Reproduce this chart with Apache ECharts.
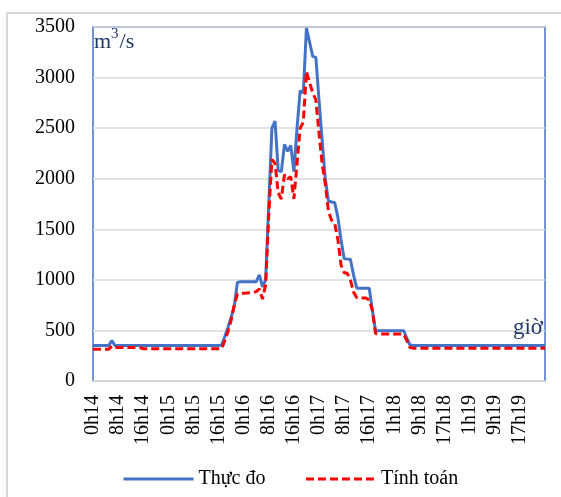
<!DOCTYPE html>
<html>
<head>
<meta charset="utf-8">
<script src="https://cdn.jsdelivr.net/npm/echarts@6/dist/echarts.min.js"></script>
<style>
  html, body { margin: 0; padding: 0; background: #fff; }
  #chart { width: 561px; height: 497px; }
</style>
</head>
<body>
<div id="chart"></div>
<script>
// Tick labels on the time axis (one every 8 hourly steps)
var tickLabels = ['0h14','8h14','16h14','0h15','8h15','16h15','0h16','8h16','16h16','0h17','8h17','16h17','1h18','9h18','17h18','1h19','9h19','17h19'];
var yTicks = [0, 500, 1000, 1500, 2000, 2500, 3000, 3500];
var seriesNames = ['Thực đo', 'Tính toán'];

// Measured discharge (hourly)
var thucDo = [
  350,350,350,350,350,350,400,350,350,350,
  350,350,350,350,350,350,350,350,350,350,
  350,350,350,350,350,350,350,350,350,350,
  350,350,350,350,350,350,350,350,350,350,
  350,355,440,530,630,740,975,982,982,982,
  982,982,982,1050,930,1000,1750,2500,2570,2080,
  2070,2340,2270,2330,2070,2500,2870,2850,3490,3350,
  3210,3200,2780,2380,2000,1780,1770,1765,1620,1400,
  1210,1205,1203,1050,920,918,918,918,918,700,
  500,497,497,497,497,497,497,497,497,497,
  420,355,350,350,350,350,350,350,350,350,
  350,350,350,350,350,350,350,350,350,350,
  350,350,350,350,350,350,350,350,350,350,
  350,350,350,350,350,350,350,350,350,350,
  350,350,350,350,350
];

// Computed discharge (hourly)
var tinhToan = [
  315,315,315,315,315,315,345,330,330,330,
  330,330,330,330,330,330,318,318,318,318,
  318,318,318,318,318,318,318,318,318,318,
  318,318,318,318,318,318,318,318,318,318,
  318,320,400,490,600,750,860,866,868,870,
  873,877,883,910,810,950,1650,2190,2150,1860,
  1800,2040,2000,2020,1800,2150,2500,2560,3060,2950,
  2850,2780,2450,2150,1950,1680,1590,1560,1400,1150,
  1070,1065,1000,880,825,820,820,820,800,700,
  470,465,465,465,465,465,465,465,465,465,
  400,330,325,325,325,325,325,325,325,325,
  325,325,325,325,325,325,325,325,325,325,
  325,325,325,325,325,325,325,325,325,325,
  325,325,325,325,325,325,325,325,325,325,
  325,325,325,325,325
];

function toPairs(arr) {
  var out = [];
  for (var i = 0; i < arr.length; i++) out.push([i, arr[i]]);
  return out;
}

var FONT = "'Liberation Serif', 'Times New Roman', serif";
var chart = echarts.init(document.getElementById('chart'), null, { renderer: 'canvas' });

chart.setOption({
  animation: false,
  backgroundColor: '#ffffff',
  textStyle: { fontFamily: FONT },
  grid: {
    left: 93, right: 16, top: 27, bottom: 116,
    show: true, borderColor: '#4472C4', borderWidth: 1.5, backgroundColor: 'transparent'
  },
  xAxis: {
    type: 'value',
    min: 0, max: thucDo.length - 1, interval: 8,
    axisLine: { show: true, lineStyle: { color: '#D9D9D9', width: 1.5 } },
    axisTick: { show: false },
    splitLine: { show: false },
    axisLabel: {
      rotate: 90, margin: 14, color: '#000', fontSize: 20, fontFamily: FONT,
      showMaxLabel: false,
      formatter: function (v) { var k = Math.round(v / 8); return tickLabels[k] !== undefined ? tickLabels[k] : ''; }
    }
  },
  yAxis: {
    type: 'value',
    min: yTicks[0], max: yTicks[yTicks.length - 1], interval: 500,
    axisLine: { show: false },
    axisTick: { show: false },
    splitLine: { show: true, lineStyle: { color: '#D9D9D9', width: 1.5 } },
    axisLabel: {
      color: '#000', fontSize: 20, fontFamily: FONT, margin: 18,
      formatter: function (v) { return String(v); }
    }
  },
  legend: {
    left: 117, top: 464,
    itemWidth: 70, itemHeight: 14, itemGap: 39,
    textStyle: { fontSize: 20, fontFamily: FONT, color: '#000' },
    itemStyle: { opacity: 0 },
    lineStyle: { width: 3 },
    data: seriesNames
  },
  series: [
    {
      name: seriesNames[0], type: 'line', symbol: 'none',
      data: toPairs(thucDo),
      lineStyle: { color: '#4472C4', width: 3 },
      itemStyle: { color: '#4472C4' },
      z: 2
    },
    {
      name: seriesNames[1], type: 'line', symbol: 'none',
      data: toPairs(tinhToan),
      lineStyle: { color: '#FF0000', width: 3, type: [8, 4] },
      itemStyle: { color: '#FF0000' },
      z: 3
    }
  ],
  graphic: [
    {
      type: 'rect', silent: true, z: -10,
      shape: { x: 7, y: 13, width: 570, height: 500 },
      style: { fill: 'none', stroke: '#D9D9D9', lineWidth: 2 }
    },
    {
      type: 'text', left: 94, top: 27, z: 10,
      style: {
        text: '{m|m}{s|3}{m|/s}',
        rich: {
          m: { font: '22px ' + FONT, fill: '#1F3864', verticalAlign: 'bottom', lineHeight: 26 },
          s: { font: '15px ' + FONT, fill: '#1F3864', verticalAlign: 'top', lineHeight: 26, padding: [0, 1, 10, 0] }
        }
      }
    },
    {
      type: 'text', right: 18, top: 316, z: 10,
      style: { text: 'giờ', font: '23px ' + FONT, fill: '#1F3864' }
    }
  ]
});
</script>
</body>
</html>
